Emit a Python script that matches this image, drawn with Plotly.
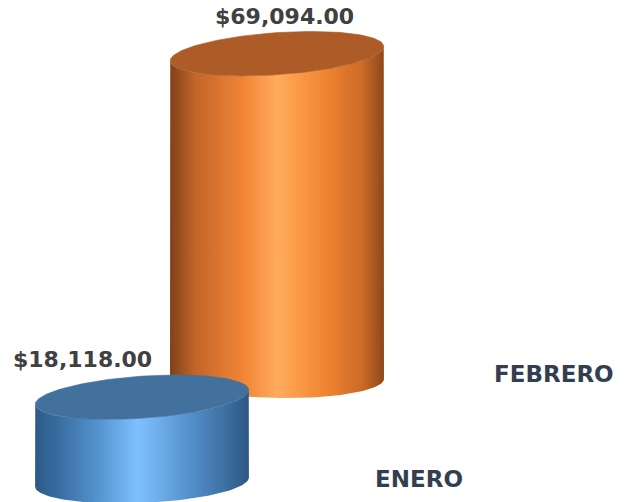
import numpy as np
import plotly.graph_objects as go

# ---- data ----
categories = ["ENERO", "FEBRERO"]
values = [18118, 69094]
value_labels = ["$18,118.00", "$69,094.00"]

# ---- style / layout constants ----
W, H = 638, 502
K = 213.7                 # dollars per screen pixel (vertical scale)
ORIGIN = (142.0, 482.0)   # base centre of first cylinder (pixels)
DEPTH = (135.0, -105.0)   # screen offset per category along depth axis
RX, RY = 107.0, 21.0
TILT_TOP = -4.0
TILT_BOTTOM = [-2.5, 1.0]
LABEL_DX = [-60.0, 7.0]   # value-label horizontal offsets
CAT_OFF = (277.0, -3.0)

SIDE_SCALES = [
    [[0, "#2c5a87"], [0.12, "#3a6fa3"], [0.3, "#5594d0"], [0.48, "#7ec0ff"],
     [0.58, "#6dadea"], [0.75, "#4f8bc5"], [0.9, "#3d6d9e"], [1, "#2b5682"]],
    [[0, "#7f4119"], [0.12, "#c4652a"], [0.35, "#f28637"], [0.5, "#ffab5e"],
     [0.6, "#fb9a48"], [0.74, "#ee8230"], [0.9, "#cc6a27"], [1, "#8c4818"]],
]
TOP_COLORS = ["#41719c", "#ad5c27"]
LABEL_COLOR = "#404040"
CAT_COLOR = "#333f50"
FONT = "DejaVu Sans"


def to_val(p):
    """screen pixel row -> value-axis coordinate"""
    return (ORIGIN[1] - p) * K


def ellipse(cx, cy_px, t, tilt_deg):
    a = np.radians(tilt_deg)
    dx = RX * np.cos(t)
    dy = RY * np.sin(t)
    x = cx + dx * np.cos(a) - dy * np.sin(a)
    y = cy_px + dx * np.sin(a) + dy * np.cos(a)
    return x, to_val(y)


fig = go.Figure()

order = list(range(len(categories)))[::-1]  # draw back to front
for i in order:
    cx = ORIGIN[0] + i * DEPTH[0]
    base_px = ORIGIN[1] + i * DEPTH[1]
    base_val = to_val(base_px)
    top_val = base_val + values[i]
    top_px = ORIGIN[1] - top_val / K

    tb = np.linspace(np.pi, 0, 80)
    bx, by = ellipse(cx, base_px, tb, TILT_BOTTOM[i])
    tt = np.linspace(0, np.pi, 80)
    tx, ty = ellipse(cx, top_px, tt, TILT_TOP)
    sx = np.concatenate([bx, tx, bx[:1]])
    sy = np.concatenate([by, ty, by[:1]])
    fig.add_trace(go.Scatter(
        x=sx, y=sy, mode="lines", line=dict(width=0), fill="toself",
        fillgradient=dict(type="horizontal", colorscale=SIDE_SCALES[i]),
        hoverinfo="skip", showlegend=False))

    ta = np.linspace(0, 2 * np.pi, 160)
    ex, ey = ellipse(cx, top_px, ta, TILT_TOP)
    fig.add_trace(go.Scatter(
        x=ex, y=ey, mode="lines", line=dict(width=0.6, color=TOP_COLORS[i]),
        fill="toself", fillcolor=TOP_COLORS[i],
        hoverinfo="skip", showlegend=False))

    # value label
    fig.add_annotation(
        x=cx + LABEL_DX[i], y=top_val + 23 * K, text=value_labels[i],
        showarrow=False, xanchor="center", yanchor="bottom",
        font=dict(family=FONT, size=22, color=LABEL_COLOR, weight="bold"))
    # category label
    fig.add_annotation(
        x=cx + CAT_OFF[0], y=base_val - CAT_OFF[1] * K, text=categories[i],
        showarrow=False, xanchor="center", yanchor="middle",
        font=dict(family=FONT, size=23, color=CAT_COLOR, weight="bold"))

fig.update_layout(
    width=W, height=H,
    margin=dict(l=0, r=0, t=0, b=0),
    paper_bgcolor="white", plot_bgcolor="white",
    xaxis=dict(range=[0, W], visible=False, fixedrange=True),
    yaxis=dict(range=[to_val(H), to_val(0)], visible=False, fixedrange=True),
    showlegend=False,
)

fig.write_html("out.html", config={"displayModeBar": False},
               post_script="document.body.style.margin='0px';")
